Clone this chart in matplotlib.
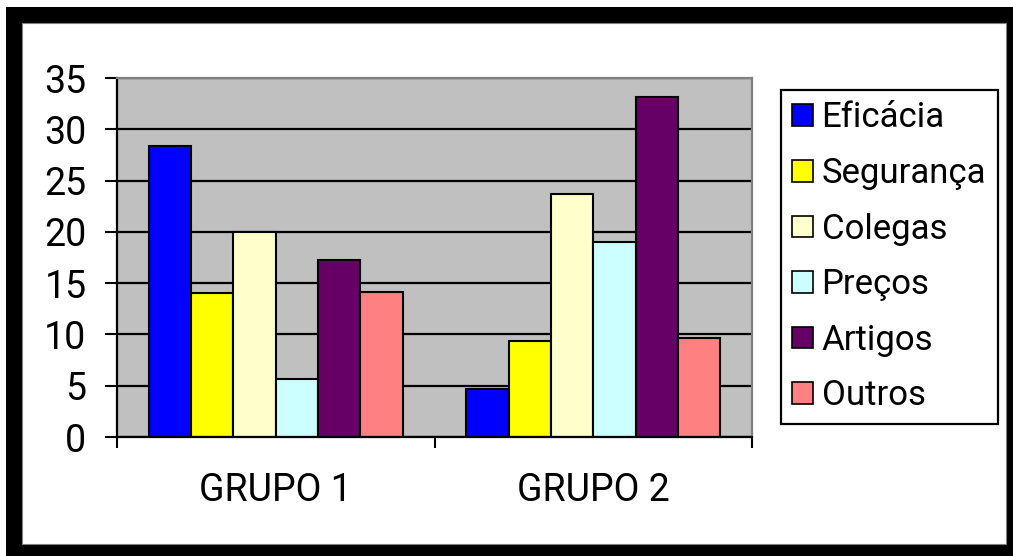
import matplotlib
matplotlib.use("Agg")
import matplotlib.pyplot as plt
from matplotlib.patches import Rectangle
import numpy as np

# Data
groups = ["GRUPO 1", "GRUPO 2"]
series = ["Eficácia", "Segurança", "Colegas", "Preços", "Artigos", "Outros"]
eficacia = [28.4, 4.7]
seguranca = [14.0, 9.4]
colegas = [20.0, 23.7]
precos = [5.7, 19.0]
artigos = [17.3, 33.1]
outros = [14.1, 9.7]
yticks = [0, 5, 10, 15, 20, 25, 30, 35]

values = [eficacia, seguranca, colegas, precos, artigos, outros]
colors = ["#0000FF", "#FFFF00", "#FFFFCC", "#CCFFFF", "#660066", "#FF8080"]

plt.rcParams["font.family"] = ["Roboto", "DejaVu Sans"]
FS = 27
LEG_FS = 25

W, H = 1013, 556
fig = plt.figure(figsize=(W / 100, H / 100), dpi=100)
fig.patch.set_facecolor("white")

def fx(px):
    return px / W

def fy(py):
    return 1 - py / H

# Black frame with white inner panel
fig.patches.append(Rectangle((fx(6), 0), 1 - fx(6), fy(7), transform=fig.transFigure,
                             facecolor="black", edgecolor="none", zorder=-2))
fig.patches.append(Rectangle((fx(22), fy(544)), fx(1006) - fx(22), fy(23) - fy(544),
                             transform=fig.transFigure, facecolor="white",
                             edgecolor="#808080", linewidth=0.8, zorder=-1))

ax = fig.add_axes([fx(117), fy(437), fx(752) - fx(117), fy(78) - fy(437)])
ax.set_zorder(2)
ax.set_facecolor("#C0C0C0")
ax.set_axisbelow(True)

n = len(series)
group_width = 0.8
bw = group_width / n
x = np.arange(len(groups))
for i, (name, vals, c) in enumerate(zip(series, values, colors)):
    offs = -group_width / 2 + bw * (i + 0.5)
    ax.bar(x + offs, vals, width=bw, color=c, edgecolor="black", linewidth=1.5,
           label=name, zorder=2)

ax.set_xlim(-0.5, len(groups) - 0.5)
ax.set_ylim(0, 35)
ax.set_yticks(yticks)
ax.set_yticklabels([str(v) for v in yticks], fontsize=FS)
ax.yaxis.grid(True, color="black", linewidth=1.6, zorder=1)

# category boundaries carry the tick marks, centres carry the labels
ax.set_xticks(np.arange(len(groups) + 1) - 0.5)
ax.set_xticklabels([])
ax.set_xticks(x, minor=True)
ax.set_xticklabels(groups, minor=True, fontsize=FS)
ax.tick_params(axis="x", which="major", direction="out", length=8, width=1.5, color="black")
ax.tick_params(axis="x", which="minor", length=0, pad=25)
ax.tick_params(axis="y", direction="out", length=9, width=1.5, color="black", pad=13)

for side in ("left", "bottom"):
    ax.spines[side].set_color("black")
    ax.spines[side].set_linewidth(1.6)
for side in ("top", "right"):
    ax.spines[side].set_color("#808080")
    ax.spines[side].set_linewidth(1.6)

leg = fig.legend(loc="upper left", bbox_to_anchor=(fx(781), fy(90)),
                 bbox_transform=fig.transFigure, fontsize=LEG_FS, frameon=True,
                 fancybox=False, edgecolor="black", facecolor="white",
                 handlelength=0.58, handleheight=0.58, handletextpad=0.26,
                 labelspacing=0.65, borderpad=0.33, borderaxespad=0)
leg.set_zorder(3)
leg.get_frame().set_linewidth(1.6)
leg.get_frame().set_alpha(1)
for h in leg.legend_handles:
    h.set_linewidth(1.2)

fig.savefig("out.png", dpi=100, facecolor=fig.get_facecolor())
